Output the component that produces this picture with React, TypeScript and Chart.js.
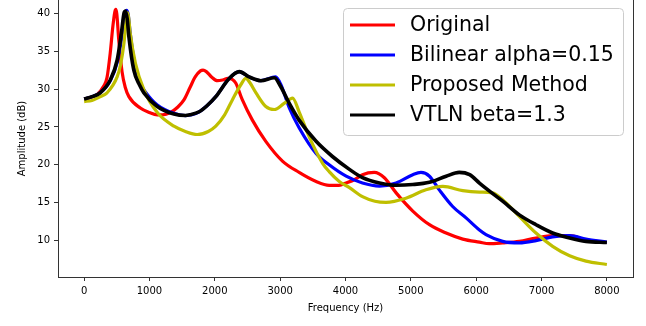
import React, { useEffect, useRef } from "react";
import { Chart, registerables } from "chart.js";

Chart.register(...registerables);

// ---- data (frequency in Hz, amplitude in dB) ----
const freqOriginal = [0, 100, 200, 300, 350, 400, 440, 470, 485, 500, 530, 580, 630, 685, 860, 1000, 1120, 1200, 1320, 1430, 1530, 1620, 1700, 1780, 1820, 1870, 1950, 2040, 2120, 2200, 2260, 2320, 2420, 2575, 2780, 3035, 3290, 3550, 3750, 3900, 4010, 4150, 4260, 4440, 4595, 4775, 5030, 5285, 5540, 5795, 6050, 6200, 6405, 6660, 6915, 7170, 7430, 7680, 8000];
const ampOriginal = [28.7, 28.9, 29.3, 30.4, 31.5, 34.8, 38.3, 40.2, 40.5, 39.9, 36.5, 32.3, 30.2, 29.0, 27.5, 26.9, 26.6, 26.6, 26.9, 27.6, 28.6, 30.2, 31.6, 32.4, 32.5, 32.3, 31.6, 31.1, 31.2, 31.4, 31.3, 30.8, 28.6, 25.9, 23.1, 20.5, 19.0, 17.8, 17.3, 17.3, 17.6, 18.1, 18.7, 19.0, 18.3, 16.3, 13.9, 12.1, 11.0, 10.2, 9.8, 9.6, 9.7, 9.9, 10.35, 10.65, 10.65, 10.1, 9.75];

const freqBilinear = [0, 120, 245, 400, 505, 580, 625, 650, 675, 705, 780, 870, 940, 1120, 1375, 1550, 1650, 1760, 1880, 2015, 2220, 2370, 2525, 2705, 2930, 3010, 3140, 3290, 3550, 3750, 4010, 4260, 4520, 4775, 5030, 5155, 5285, 5435, 5640, 5845, 6050, 6150, 6405, 6660, 6915, 7170, 7430, 7680, 8000];
const ampBilinear = [28.7, 29.0, 29.5, 31.1, 33.5, 37.0, 39.8, 40.4, 39.8, 37.4, 33.0, 30.6, 29.6, 27.9, 26.8, 26.5, 26.6, 27.0, 27.8, 29.0, 31.4, 32.3, 31.6, 31.1, 31.6, 30.6, 27.5, 24.9, 21.5, 20.0, 18.5, 17.6, 17.2, 17.6, 18.7, 19.0, 18.5, 16.7, 14.5, 13.0, 11.4, 10.8, 9.9, 9.7, 10.0, 10.5, 10.65, 10.2, 9.8];

const freqProposed = [0, 120, 250, 350, 505, 560, 610, 640, 660, 680, 705, 785, 915, 1120, 1375, 1550, 1730, 1900, 2015, 2150, 2270, 2400, 2475, 2540, 2630, 2780, 2910, 3060, 3190, 3290, 3445, 3650, 3750, 3905, 4060, 4260, 4450, 4620, 4925, 5230, 5490, 5795, 6050, 6250, 6405, 6660, 6915, 7170, 7430, 7680, 8000];
const ampProposed = [28.35, 28.5, 29.0, 29.5, 31.6, 33.3, 36.1, 38.8, 40.1, 39.5, 37.4, 33.4, 29.9, 26.9, 25.1, 24.4, 24.0, 24.4, 25.1, 26.6, 28.6, 30.6, 31.4, 30.8, 29.5, 27.7, 27.3, 28.1, 28.8, 27.0, 23.7, 20.2, 19.1, 17.8, 17.0, 15.8, 15.2, 15.05, 15.6, 16.7, 17.15, 16.6, 16.4, 16.3, 15.4, 13.2, 11.0, 9.25, 8.0, 7.3, 6.85];

const freqVTLN = [0, 120, 245, 400, 505, 570, 610, 633, 660, 685, 760, 850, 915, 1120, 1375, 1550, 1620, 1760, 1880, 2015, 2220, 2375, 2525, 2705, 2910, 3010, 3140, 3290, 3550, 3800, 4060, 4260, 4520, 4775, 5030, 5285, 5540, 5740, 5900, 6050, 6150, 6405, 6660, 6915, 7170, 7430, 7680, 8000];
const ampVTLN = [28.7, 29.0, 29.5, 31.2, 33.8, 37.4, 40.0, 40.3, 39.2, 36.9, 32.5, 30.5, 29.5, 27.7, 26.7, 26.5, 26.6, 27.0, 27.8, 29.0, 31.4, 32.3, 31.6, 31.1, 31.5, 30.3, 28.1, 25.9, 23.1, 21.1, 19.4, 18.3, 17.6, 17.3, 17.4, 17.7, 18.5, 19.0, 18.7, 17.6, 16.9, 15.2, 13.4, 12.1, 11.0, 10.35, 9.9, 9.75];

const seriesLabels = ["Original", "Bilinear alpha=0.15", "Proposed Method", "VTLN beta=1.3"];
const seriesColors = ["#ff0000", "#0000ff", "#bfbf00", "#000000"];

const xTicks = [0, 1000, 2000, 3000, 4000, 5000, 6000, 7000, 8000];
const yTicks = [10, 15, 20, 25, 30, 35, 40];

const xLabel = "Frequency (Hz)";
const yLabel = "Amplitude (dB)";

const FONT = "'DejaVu Sans', sans-serif";

const toPoints = (f: number[], a: number[]) => f.map((x, i) => ({ x, y: a[i] }));

const framePlugin = {
  id: "frameAndLegend",
  afterDraw(chart: any) {
    const { ctx, chartArea } = chart;
    ctx.save();
    // right spine
    ctx.strokeStyle = "#333333";
    ctx.lineWidth = 1;
    ctx.beginPath();
    const rx = Math.round(chartArea.right) + 0.5;
    ctx.moveTo(rx, 0);
    ctx.lineTo(rx, chartArea.bottom + 0.5);
    ctx.stroke();

    // legend box
    const bx = 343.5, by = 8.5, bw = 280, bh = 127;
    ctx.beginPath();
    if (ctx.roundRect) ctx.roundRect(bx, by, bw, bh, 4);
    else ctx.rect(bx, by, bw, bh);
    ctx.fillStyle = "rgba(255,255,255,0.8)";
    ctx.fill();
    ctx.strokeStyle = "#cccccc";
    ctx.lineWidth = 1;
    ctx.stroke();

    const datasets = chart.data.datasets;
    ctx.font = `20.5px ${FONT}`;
    ctx.textBaseline = "middle";
    ctx.textAlign = "left";
    datasets.forEach((ds: any, i: number) => {
      const cy = 25 + i * 30;
      ctx.strokeStyle = ds.borderColor;
      ctx.lineWidth = 3.2;
      ctx.beginPath();
      ctx.moveTo(350, cy);
      ctx.lineTo(395, cy);
      ctx.stroke();
      ctx.fillStyle = "#000000";
      ctx.fillText(ds.label, 410, cy + 1);
    });
    ctx.restore();
  },
};

export default function App() {
  const canvasRef = useRef<HTMLCanvasElement | null>(null);

  useEffect(() => {
    const canvas = canvasRef.current;
    if (!canvas) return;
    const series = [
      toPoints(freqOriginal, ampOriginal),
      toPoints(freqBilinear, ampBilinear),
      toPoints(freqProposed, ampProposed),
      toPoints(freqVTLN, ampVTLN),
    ];
    const chart = new Chart(canvas, {
      type: "line",
      data: {
        datasets: series.map((data, i) => ({
          label: seriesLabels[i],
          data,
          borderColor: seriesColors[i],
          backgroundColor: seriesColors[i],
          borderWidth: i === 3 ? 3.6 : 3.2,
          pointRadius: 0,
          fill: false,
          cubicInterpolationMode: "monotone" as const,
          order: 4 - i,
        })),
      },
      options: {
        animation: false,
        responsive: false,
        devicePixelRatio: 1,
        events: [],
        layout: { padding: { left: 0, right: 13, top: 0, bottom: 0 } },
        plugins: {
          legend: { display: false },
          tooltip: { enabled: false },
          title: { display: false },
        },
        scales: {
          x: {
            type: "linear",
            min: -400,
            max: 8400,
            afterFit: (s: any) => {
              s.height = 49;
              s.paddingLeft = 0;
              s.paddingRight = 0;
            },
            afterBuildTicks: (s: any) => {
              s.ticks = xTicks.map((v) => ({ value: v }));
            },
            grid: {
              display: true,
              drawOnChartArea: false,
              drawTicks: true,
              tickLength: 4,
              tickColor: "#333333",
              tickWidth: 1,
            },
            border: { display: true, color: "#333333", width: 1 },
            ticks: {
              padding: 4,
              color: "#000000",
              font: { family: FONT, size: 10 },
              maxRotation: 0,
              autoSkip: false,
              callback: (v: any) => String(v),
            },
            title: {
              display: true,
              text: xLabel,
              color: "#000000",
              font: { family: FONT, size: 10 },
              padding: { top: 0, bottom: 12 },
            },
          },
          y: {
            type: "linear",
            min: 5.2,
            max: 41.75,
            afterFit: (s: any) => {
              s.width = 58;
              s.paddingTop = 0;
              s.paddingBottom = 0;
            },
            afterBuildTicks: (s: any) => {
              s.ticks = yTicks.map((v) => ({ value: v }));
            },
            grid: {
              display: true,
              drawOnChartArea: false,
              drawTicks: true,
              tickLength: 4,
              tickColor: "#333333",
              tickWidth: 1,
            },
            border: { display: true, color: "#333333", width: 1 },
            ticks: {
              padding: 4,
              color: "#000000",
              font: { family: FONT, size: 10 },
              autoSkip: false,
              callback: (v: any) => String(v),
            },
            title: {
              display: true,
              text: yLabel,
              color: "#000000",
              font: { family: FONT, size: 10 },
              padding: { top: 16, bottom: 0 },
            },
          },
        },
      },
      plugins: [framePlugin],
    });
    return () => chart.destroy();
  }, []);

  return (
    <div style={{ position: "absolute", left: 0, top: 0, width: 646, height: 326, background: "#ffffff" }}>
      <canvas ref={canvasRef} width={646} height={326} style={{ display: "block", width: 646, height: 326 }} />
    </div>
  );
}
